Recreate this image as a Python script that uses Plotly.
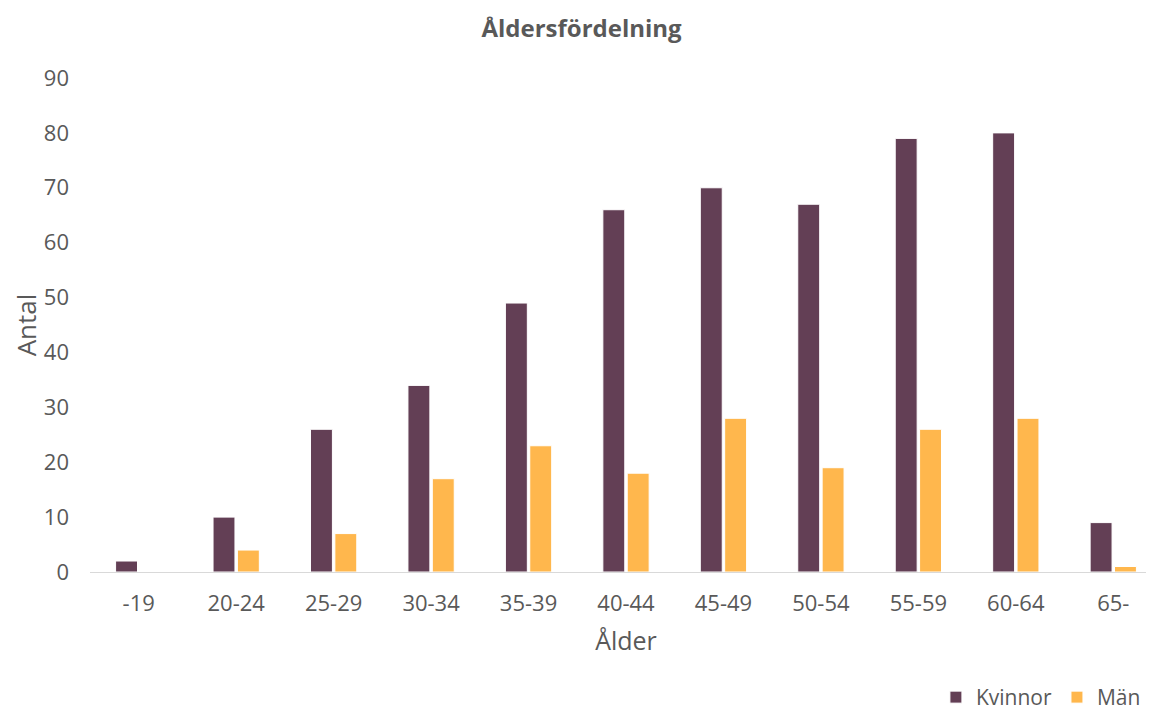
import plotly.graph_objects as go

categories = ["-19", "20-24", "25-29", "30-34", "35-39", "40-44", "45-49", "50-54", "55-59", "60-64", "65-"]
kvinnor = [2, 10, 26, 34, 49, 66, 70, 67, 79, 80, 9]
man = [0, 4, 7, 17, 23, 18, 28, 19, 26, 28, 1]
y_ticks = [0, 10, 20, 30, 40, 50, 60, 70, 80, 90]

FONT = "Open Sans"
GRAY = "#595959"

fig = go.Figure()
fig.add_trace(go.Bar(name="Kvinnor", x=categories, y=kvinnor,
                     marker=dict(color="#633F55", line=dict(color="white", width=1))))
fig.add_trace(go.Bar(name="Män", x=categories, y=man,
                     marker=dict(color="#FFB74D", line=dict(color="white", width=1))))

fig.update_layout(
    width=1154, height=711,
    paper_bgcolor="white", plot_bgcolor="white",
    font=dict(family=FONT, color=GRAY, size=22),
    margin=dict(l=82, r=0, t=70, b=147, autoexpand=False),
    barmode="group", bargap=0.5, bargroupgap=0.1,
    title=dict(text="<b>Åldersfördelning</b>", x=0.497, xanchor="center",
               y=1 - 21 / 711, yanchor="middle", yref="container",
               font=dict(size=24, color=GRAY, family=FONT)),
    legend=dict(orientation="h", x=0.985, xanchor="right", y=-0.254, yanchor="middle",
                font=dict(size=21, color=GRAY), itemwidth=30, traceorder="normal"),
    showlegend=True,
)
fig.update_xaxes(range=[-0.5, 10.5], showgrid=False, showline=True, linecolor="#D9D9D9",
                 linewidth=1, ticks="", ticklabelstandoff=12, tickfont=dict(size=22),
                 title=dict(text="Ålder", font=dict(size=25, color=GRAY), standoff=16))
fig.update_yaxes(range=[0, 90], tickvals=y_ticks, showgrid=False, showline=False, zeroline=False,
                 ticks="", ticklabelstandoff=20, tickfont=dict(size=22),
                 title=dict(text="Antal", font=dict(size=26, color=GRAY), standoff=8))

fig.write_html("out.html")
